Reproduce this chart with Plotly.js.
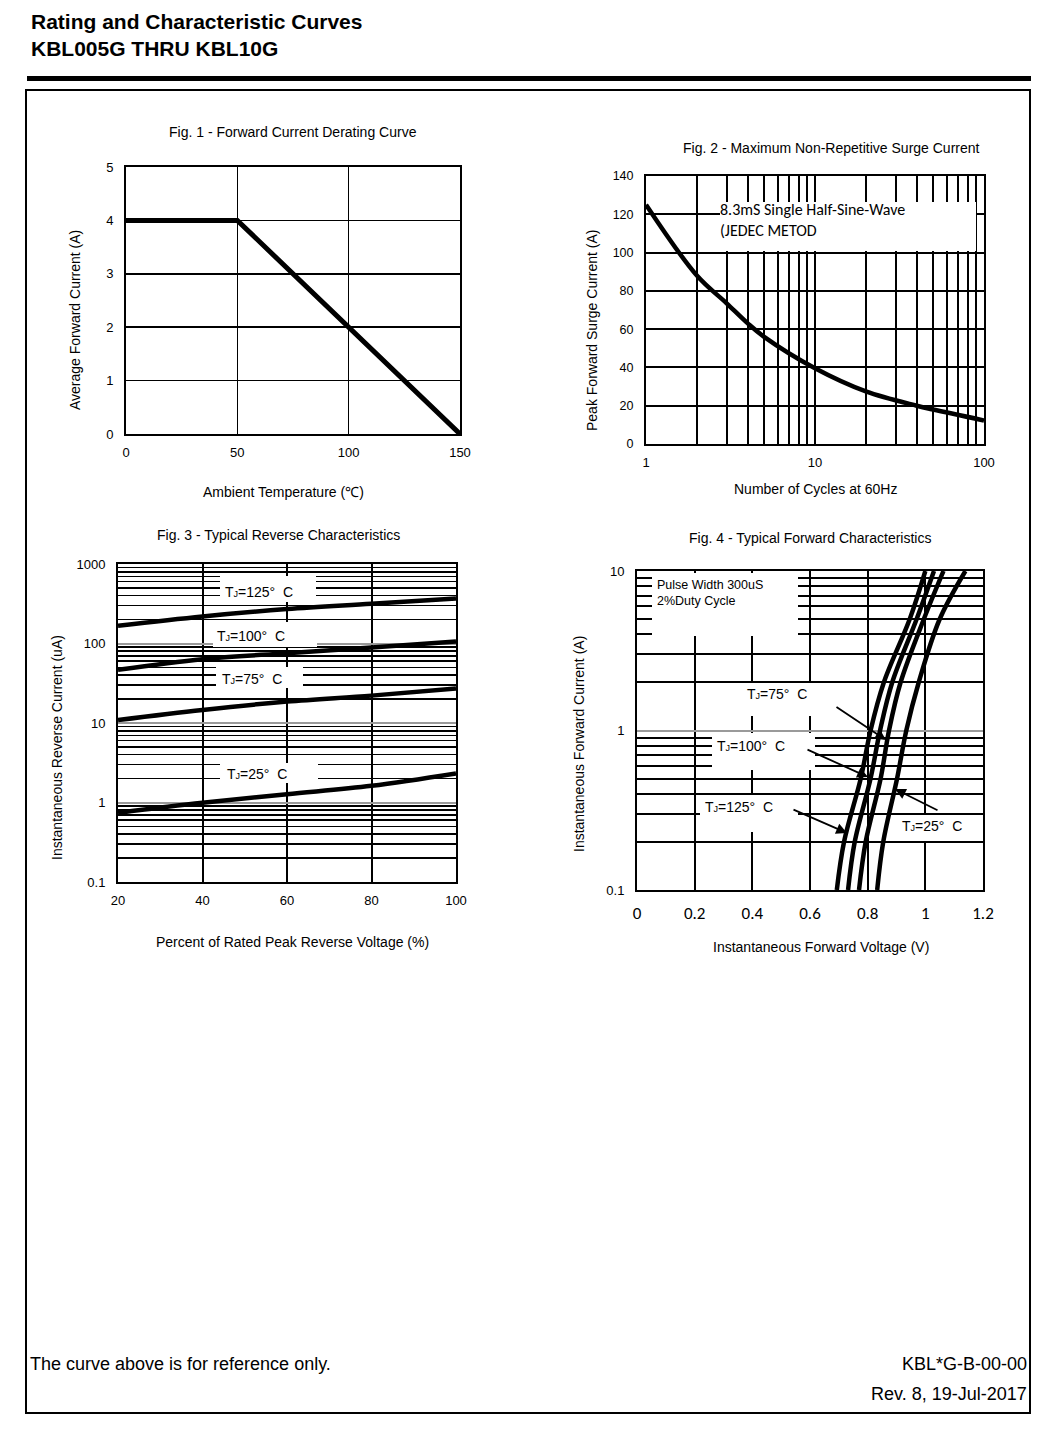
<!DOCTYPE html>
<html><head><meta charset="utf-8">
<script src="https://cdn.plot.ly/plotly-3.0.1.min.js"></script>
<style>html,body{margin:0;padding:0;background:#fff}</style>
</head><body>
<div id="chart" style="width:1059px;height:1432px"></div>
<script>
// ---------- data ----------
// Fig.1 derating curve
const fig1Temp = [0, 50, 150];
const fig1Current = [4, 4, 0];
// Fig.2 surge current
const fig2Cycles = [1, 2, 3, 4, 5, 10, 20, 40, 50, 100];
const fig2Current = [125, 88, 73.5, 63, 56, 39.6, 27.5, 20, 18, 12.3];
// Fig.3 reverse characteristics (% of rated voltage vs uA)
const fig3Pct = [20, 40, 60, 80, 100];
const fig3T125 = [167, 219, 271, 316, 369];
const fig3T100 = [46.6, 63.5, 75.5, 89, 106];
const fig3T75 = [10.9, 14.6, 18.6, 22.1, 27.1];
const fig3T25 = [0.74, 0.99, 1.27, 1.62, 2.32];
const fig3Labels = ['T<span style="font-size:9px">J</span>=125°  C', 'T<span style="font-size:9px">J</span>=100°  C', 'T<span style="font-size:9px">J</span>=75°  C', 'T<span style="font-size:9px">J</span>=25°  C'];
// Fig.4 forward characteristics (A vs V)
const fig4Current = [0.1, 0.2, 0.5, 1, 2, 5, 10];
const fig4V125 = [0.693, 0.718, 0.776, 0.810, 0.856, 0.946, 1.000];
const fig4V100 = [0.732, 0.755, 0.810, 0.843, 0.885, 0.970, 1.030];
const fig4V75 = [0.770, 0.793, 0.845, 0.874, 0.914, 0.995, 1.063];
const fig4V25 = [0.833, 0.854, 0.902, 0.934, 0.977, 1.050, 1.139];
const fig4Labels = ['T<span style="font-size:9px">J</span>=75°  C', 'T<span style="font-size:9px">J</span>=100°  C', 'T<span style="font-size:9px">J</span>=125°  C', 'T<span style="font-size:9px">J</span>=25°  C'];
// ticks
const fig1XTicks = [0, 50, 100, 150];
const fig1YTicks = [0, 1, 2, 3, 4, 5];
const fig2XTicks = [1, 10, 100];
const fig2XMinor = [2, 3, 4, 5, 6, 7, 8, 9, 20, 30, 40, 50, 60, 70, 80, 90];
const fig2YTicks = [0, 20, 40, 60, 80, 100, 120, 140];
const fig3XTicks = [20, 40, 60, 80, 100];
const fig3YTicks = [0.1, 1, 10, 100, 1000];
const fig3YTickText = ['0.1', '1', '10', '100', '1000'];
const fig3YMinor = [0.2,0.3,0.4,0.5,0.6,0.7,0.8,0.9,2,3,4,5,6,7,8,9,20,30,40,50,60,70,80,90,200,300,400,500,600,700,800,900];
const fig4XTicks = [0, 0.2, 0.4, 0.6, 0.8, 1, 1.2];
const fig4XTickText = ['0', '0.2', '0.4', '0.6', '0.8', '1', '1.2'];
const fig4YTicks = [0.1, 1, 10];
const fig4YTickText = ['0.1', '1', '10'];
const fig4YMinor = [0.2,0.3,0.4,0.5,0.6,0.7,0.8,0.9,2,3,4,5,6,7,8,9];

// ---------- helpers ----------
const W = 1059, H = 1432;
const PX = x => x / W;
const PY = y => 1 - y / H;
const SANS = 'Liberation Sans, Arial, sans-serif';
const CAL = 'Carlito, Lato, Calibri, sans-serif';
const lineStyle = {color: 'black', width: 4.5, shape: 'spline'};

function axisBase(extra) {
  return Object.assign({
    showline: true, mirror: true, linecolor: 'black', linewidth: 2,
    showgrid: true, gridcolor: 'black', gridwidth: 1.5,
    zeroline: false, ticks: '', fixedrange: true,
    tickfont: {family: SANS, size: 13, color: 'black'}
  }, extra);
}

const traces = [
  {x: fig1Temp, y: fig1Current, xaxis: 'x', yaxis: 'y', mode: 'lines', line: {color: 'black', width: 5}},
  {x: fig2Cycles, y: fig2Current, xaxis: 'x2', yaxis: 'y2', mode: 'lines', line: lineStyle},
  {x: fig3Pct, y: fig3T125, xaxis: 'x3', yaxis: 'y3', mode: 'lines', line: lineStyle},
  {x: fig3Pct, y: fig3T100, xaxis: 'x3', yaxis: 'y3', mode: 'lines', line: lineStyle},
  {x: fig3Pct, y: fig3T75, xaxis: 'x3', yaxis: 'y3', mode: 'lines', line: lineStyle},
  {x: fig3Pct, y: fig3T25, xaxis: 'x3', yaxis: 'y3', mode: 'lines', line: lineStyle},
  {x: fig4V125, y: fig4Current, xaxis: 'x4', yaxis: 'y4', mode: 'lines', line: lineStyle},
  {x: fig4V100, y: fig4Current, xaxis: 'x4', yaxis: 'y4', mode: 'lines', line: lineStyle},
  {x: fig4V75, y: fig4Current, xaxis: 'x4', yaxis: 'y4', mode: 'lines', line: lineStyle},
  {x: fig4V25, y: fig4Current, xaxis: 'x4', yaxis: 'y4', mode: 'lines', line: lineStyle}
];

function txt(text, x, y, opts) {
  return Object.assign({text: text, xref: 'paper', yref: 'paper', x: PX(x), y: PY(y),
    showarrow: false, xanchor: 'center', yanchor: 'middle',
    font: {family: SANS, size: 14, color: 'black'}}, opts || {});
}
function arrow(tx, ty, hx, hy) {
  return {text: '', xref: 'paper', yref: 'paper', x: PX(hx), y: PY(hy),
    ax: tx - hx, ay: ty - hy, showarrow: true, arrowhead: 2, arrowsize: 1.2,
    arrowwidth: 1.8, arrowcolor: 'black', standoff: 0, startstandoff: 0};
}
function box(x0, y0, x1, y1) {
  return {type: 'rect', xref: 'paper', yref: 'paper', x0: PX(x0), x1: PX(x1), y0: PY(y1), y1: PY(y0),
    fillcolor: 'white', line: {width: 0}, layer: 'above'};
}
const FOOT = {family: SANS, size: 18, color: 'black'};

const layout = {
  width: W, height: H, margin: {l: 0, r: 0, t: 0, b: 0},
  paper_bgcolor: 'white', plot_bgcolor: 'white', showlegend: false,
  xaxis: axisBase({domain: [PX(126), PX(460)], anchor: 'y', range: [0, 150], tickvals: fig1XTicks, ticklabelstandoff: 5}),
  yaxis: axisBase({domain: [PY(434), PY(167)], anchor: 'x', range: [0, 5], tickvals: fig1YTicks, ticklabelstandoff: 8}),
  xaxis2: axisBase({domain: [PX(646), PX(984)], anchor: 'y2', type: 'log', range: [0, 2], tickvals: fig2XTicks, gridwidth: 2,
    minor: {tickvals: fig2XMinor, showgrid: true, gridcolor: 'black', gridwidth: 2, ticks: ''}, ticklabelstandoff: 5}),
  yaxis2: axisBase({domain: [PY(444), PY(176)], anchor: 'x2', range: [0, 140], tickvals: fig2YTicks, gridwidth: 2,
    tickfont: {family: SANS, size: 12.5, color: 'black'}, ticklabelstandoff: 8}),
  xaxis3: axisBase({domain: [PX(118), PX(456)], anchor: 'y3', range: [20, 100], tickvals: fig3XTicks, gridwidth: 2, ticklabelstandoff: 5}),
  yaxis3: axisBase({domain: [PY(882), PY(564)], anchor: 'x3', type: 'log', range: [-1, 3], tickvals: fig3YTicks, ticktext: fig3YTickText,
    gridcolor: '#9a9a9a', gridwidth: 2,
    minor: {tickvals: fig3YMinor, showgrid: true, gridcolor: 'black', gridwidth: 1.6, ticks: ''}, ticklabelstandoff: 8}),
  xaxis4: axisBase({domain: [PX(637), PX(983)], anchor: 'y4', range: [0, 1.2], tickvals: fig4XTicks, ticktext: fig4XTickText, gridwidth: 2,
    tickfont: {family: CAL, size: 17, color: 'black'}, ticklabelstandoff: 7}),
  yaxis4: axisBase({domain: [PY(890), PY(571)], anchor: 'x4', type: 'log', range: [-1, 1], tickvals: fig4YTicks, ticktext: fig4YTickText,
    gridcolor: '#9a9a9a', gridwidth: 2,
    minor: {tickvals: fig4YMinor, showgrid: true, gridcolor: 'black', gridwidth: 2, ticks: ''}, ticklabelstandoff: 8}),
  shapes: [
    // header rule and page frame
    {type: 'rect', xref: 'paper', yref: 'paper', x0: PX(27), x1: PX(1031), y0: PY(81), y1: PY(76), fillcolor: 'black', line: {width: 0}},
    {type: 'rect', xref: 'paper', yref: 'paper', x0: PX(26), x1: PX(1030), y0: PY(1413), y1: PY(90), fillcolor: 'rgba(0,0,0,0)', line: {color: 'black', width: 2}},
    // label boxes
    box(720, 202, 976, 251),
    box(220, 576, 316, 602), box(213, 622, 317, 647), box(216, 667, 303, 688), box(220, 763, 318, 783),
    box(652, 573, 798, 636), box(740, 683, 845, 716), box(712, 733, 815, 770), box(700, 795, 798, 832), box(897, 815, 981, 841)
  ],
  annotations: [
    txt('<b>Rating and Characteristic Curves</b>', 29, 21, {xanchor: 'left', font: {family: SANS, size: 21, color: 'black'}}),
    txt('<b>KBL005G THRU KBL10G</b>', 29, 49, {xanchor: 'left', font: {family: SANS, size: 21, color: 'black'}}),
    // fig1
    txt('Fig. 1 - Forward Current Derating Curve', 293, 132),
    txt('Ambient Temperature (℃)', 283, 492),
    txt('Average Forward Current (A)', 75, 320, {textangle: -90}),
    // fig2
    txt('Fig. 2 - Maximum Non-Repetitive Surge Current', 831, 148),
    txt('Number of Cycles at 60Hz', 815, 489),
    txt('Peak Forward Surge Current (A)', 592, 330, {textangle: -90}),
    txt('8.3mS Single Half-Sine-Wave<br>(JEDEC METOD', 718, 220, {xanchor: 'left', align: 'left', font: {family: CAL, size: 16, color: 'black'}}),
    // fig3
    txt('Fig. 3 - Typical Reverse Characteristics', 278, 535),
    txt('Percent of Rated Peak Reverse Voltage (%)', 292, 942),
    txt('Instantaneous Reverse Current (uA)', 57, 748, {textangle: -90}),
    txt(fig3Labels[0], 223, 592, {xanchor: 'left'}),
    txt(fig3Labels[1], 215, 636, {xanchor: 'left'}),
    txt(fig3Labels[2], 220, 679, {xanchor: 'left'}),
    txt(fig3Labels[3], 225, 774, {xanchor: 'left'}),
    // fig4
    txt('Fig. 4 - Typical Forward Characteristics', 810, 538),
    txt('Instantaneous Forward Voltage (V)', 821, 947),
    txt('Instantaneous Forward Current (A)', 579, 744, {textangle: -90}),
    txt('Pulse Width 300uS<br>2%Duty Cycle', 655, 593, {xanchor: 'left', align: 'left', font: {family: SANS, size: 12.5, color: 'black'}}),
    txt(fig4Labels[0], 745, 694, {xanchor: 'left'}),
    txt(fig4Labels[1], 715, 746, {xanchor: 'left'}),
    txt(fig4Labels[2], 703, 807, {xanchor: 'left'}),
    txt(fig4Labels[3], 900, 826, {xanchor: 'left'}),
    arrow(835, 706, 886, 740),
    arrow(806, 749, 868, 777),
    arrow(792, 809, 847, 833),
    arrow(939, 811, 895, 789),
    // footer
    txt('The curve above is for reference only.', 28, 1364, {xanchor: 'left', font: FOOT}),
    txt('KBL*G-B-00-00', 1029, 1364, {xanchor: 'right', font: FOOT}),
    txt('Rev. 8, 19-Jul-2017', 1029, 1394, {xanchor: 'right', font: FOOT})
  ]
};

Plotly.newPlot('chart', traces, layout, {staticPlot: true, displayModeBar: false});
</script>
</body></html>
